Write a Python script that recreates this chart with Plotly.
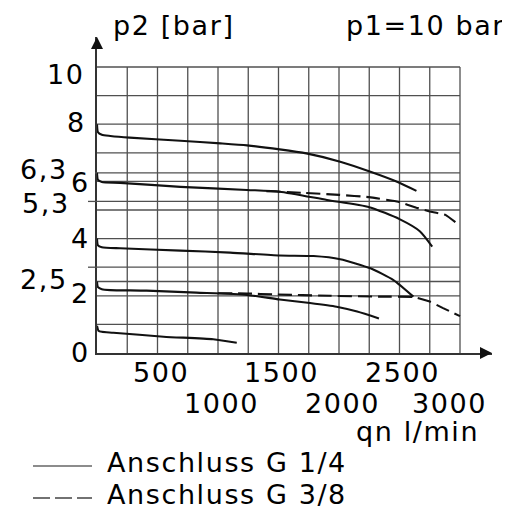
import plotly.graph_objects as go

# ---------------- data ----------------
x_grid = [250, 500, 750, 1000, 1250, 1500, 1750, 2000, 2250, 2500, 2750, 3000]
y_grid = [1, 2, 2.5, 3, 4, 5, 5.3, 6, 6.3, 7, 8, 9, 10]

x_tick_row1 = [500, 1500, 2500]
x_tick_row2 = [1000, 2000, 3000]
y_ticks_main = [0, 2, 4, 6, 8, 10]
y_ticks_extra = [6.3, 5.3, 2.5]
y_ticks_extra_labels = ["6,3", "5,3", "2,5"]

# G 1/4 (solid)
s8_x = [0, 8, 40, 110, 270, 690, 1020, 1240, 1510, 1730, 2010, 2260, 2480, 2640]
s8_y = [8.0, 7.72, 7.63, 7.59, 7.53, 7.42, 7.33, 7.26, 7.12, 6.98, 6.69, 6.34, 5.99, 5.67]

s63_x = [0, 8, 40, 190, 690, 1240, 1510, 1900, 2250, 2500, 2670, 2770]
s63_y = [6.3, 6.05, 5.98, 5.95, 5.81, 5.70, 5.64, 5.35, 5.10, 4.68, 4.25, 3.72]

s4_x = [0, 8, 40, 190, 690, 1100, 1510, 1790, 2010, 2260, 2450, 2615]
s4_y = [4.0, 3.76, 3.70, 3.66, 3.58, 3.51, 3.41, 3.39, 3.28, 2.96, 2.55, 1.97]

s25_x = [0, 8, 40, 110, 410, 820, 1240, 1510, 1760, 1980, 2150, 2330]
s25_y = [2.5, 2.3, 2.23, 2.2, 2.18, 2.11, 2.03, 1.87, 1.75, 1.62, 1.45, 1.21]

s1_x = [0, 12, 40, 135, 550, 960, 1155]
s1_y = [0.95, 0.78, 0.74, 0.71, 0.57, 0.48, 0.36]

# G 3/8 (dashed, where it departs from G 1/4)
d63_x = [1400, 1700, 2000, 2250, 2490, 2640, 2750, 2880, 2990]
d63_y = [5.66, 5.60, 5.53, 5.45, 5.29, 5.08, 4.95, 4.83, 4.48]

d25_x = [1000, 1240, 1460, 1930, 2340, 2615, 2750, 2860, 3000]
d25_y = [2.09, 2.08, 2.05, 2.00, 1.97, 1.96, 1.80, 1.57, 1.29]

legend_labels = ["Anschluss G 1/4", "Anschluss G 3/8"]

# ---------------- figure ----------------
FONT = "DejaVu Sans"
FS = 27
LS = "1.6px"
TXT = "#000000"
GRID = "#505050"
CURVE = "#111111"

# the page puts the figure 8px from the top-left corner
OFF = 8
PL, PT, PR, PB = 97, 37, 492, 353     # plot-area box in window pixels
W, H = 510 - OFF, 511 - OFF
PW, PH = PR - PL, PB - PT

X_MAX = 3000 * PW / (460 - PL)
Y_MAX = 10 * PH / (PB - 67)


def px_x(p):
    return (p - PL) / PW


def px_y(p):
    return (PB - p) / PH


def sp(t):
    return '<span style="letter-spacing:%s">%s</span>' % (LS, t)


fig = go.Figure()

for xs, ys in [(s8_x, s8_y), (s63_x, s63_y), (s4_x, s4_y), (s25_x, s25_y), (s1_x, s1_y)]:
    fig.add_trace(go.Scatter(x=xs, y=ys, mode="lines",
                             line=dict(color=CURVE, width=2.1, shape="spline", smoothing=0.6),
                             showlegend=False, hoverinfo="skip"))
for xs, ys in [(d63_x, d63_y), (d25_x, d25_y)]:
    fig.add_trace(go.Scatter(x=xs, y=ys, mode="lines",
                             line=dict(color=CURVE, width=2.1, dash="14px,6px", shape="spline", smoothing=0.3),
                             showlegend=False, hoverinfo="skip"))

shapes = []
for gx in x_grid:
    shapes.append(dict(type="line", xref="x", yref="y", x0=gx, x1=gx, y0=0, y1=10,
                       line=dict(color=GRID, width=1.3), layer="below"))
for gy in y_grid:
    shapes.append(dict(type="line", xref="x", yref="y", x0=0, x1=3000, y0=gy, y1=gy,
                       line=dict(color=GRID, width=1.3), layer="below"))
# small stubs left of the axis
for gy, length in [(6.3, 2), (5.3, 9), (3, 9)]:
    shapes.append(dict(type="line", xref="paper", yref="y", x0=-length / PW, x1=0, y0=gy, y1=gy,
                       line=dict(color=GRID, width=1.3)))
# legend samples
shapes.append(dict(type="line", xref="paper", yref="paper",
                   x0=px_x(33), x1=px_x(92), y0=px_y(466), y1=px_y(466),
                   line=dict(color="#666666", width=1.3)))
shapes.append(dict(type="line", xref="paper", yref="paper",
                   x0=px_x(33), x1=px_x(92), y0=px_y(498), y1=px_y(498),
                   line=dict(color="#444444", width=1.3, dash="17px,5px")))

ann = []


def text(t, **kw):
    d = dict(text=sp(t), showarrow=False, font=dict(family=FONT, size=FS, color=TXT))
    d.update(kw)
    ann.append(d)


# y tick labels
y_main_pos = {10: (-10, -7), 8: (-9, 2), 6: (-5, -1), 4: (-5, 0), 2: (-5, 2), 0: (-5, 1)}
for v in y_ticks_main:
    xs, ys = y_main_pos[v]
    text(str(v), x=0, y=v, xref="x", yref="y", xanchor="right", yanchor="middle",
         xshift=xs, yshift=ys)
y_extra_pos = {6.3: (-27, 3), 5.3: (-25, -2), 2.5: (-27, 2.5)}
for v, lab in zip(y_ticks_extra, y_ticks_extra_labels):
    xs, ys = y_extra_pos[v]
    text(lab, x=0, y=v, xref="x", yref="y", xanchor="right", yanchor="middle",
         xshift=xs, yshift=ys)

# x tick labels (two staggered rows)
for v in x_tick_row1:
    text(str(v), x=v, y=0, xref="x", yref="y", xanchor="center", yanchor="middle",
         xshift=3, yshift=-19)
for v in x_tick_row2:
    text(str(v), x=v, y=0, xref="x", yref="y", xanchor="center", yanchor="middle",
         xshift=(-11 if v == 3000 else 3), yshift=-50)

text("qn l/min", x=3000, y=0, xref="x", yref="y", xanchor="right", yanchor="middle",
     xshift=21, yshift=-78)
text("p2 [bar]", x=px_x(111), y=px_y(25), xref="paper", yref="paper",
     xanchor="left", yanchor="middle")
text("p1=10 bar", x=px_x(507), y=px_y(25), xref="paper", yref="paper",
     xanchor="right", yanchor="middle")
text(legend_labels[0], x=px_x(105), y=px_y(462), xref="paper", yref="paper",
     xanchor="left", yanchor="middle")
text(legend_labels[1], x=px_x(105), y=px_y(494), xref="paper", yref="paper",
     xanchor="left", yanchor="middle")

# axis arrowheads
ann.append(dict(x=0, y=Y_MAX, ax=0, ay=Y_MAX - 0.3, xref="x", yref="y", axref="x", ayref="y",
                showarrow=True, arrowhead=2, arrowsize=1.6, arrowwidth=1.5, arrowcolor="#111111", text=""))
ann.append(dict(x=X_MAX, y=0, ax=X_MAX - 90, ay=0, xref="x", yref="y", axref="x", ayref="y",
                showarrow=True, arrowhead=2, arrowsize=1.6, arrowwidth=1.5, arrowcolor="#111111", text=""))

fig.update_layout(
    width=W, height=H,
    margin=dict(l=PL - OFF, r=W - (PR - OFF), t=PT - OFF, b=H - (PB - OFF), pad=0),
    paper_bgcolor="white", plot_bgcolor="rgba(0,0,0,0)",
    shapes=shapes, annotations=ann, showlegend=False,
    xaxis=dict(range=[0, X_MAX], showgrid=False, zeroline=False, showticklabels=False,
               ticks="", showline=True, linecolor="#333333", linewidth=1.5, fixedrange=True),
    yaxis=dict(range=[0, Y_MAX], showgrid=False, zeroline=False, showticklabels=False,
               ticks="", showline=True, linecolor="#333333", linewidth=1.5, fixedrange=True),
)

fig.write_html("out.html", config={"displayModeBar": False})
